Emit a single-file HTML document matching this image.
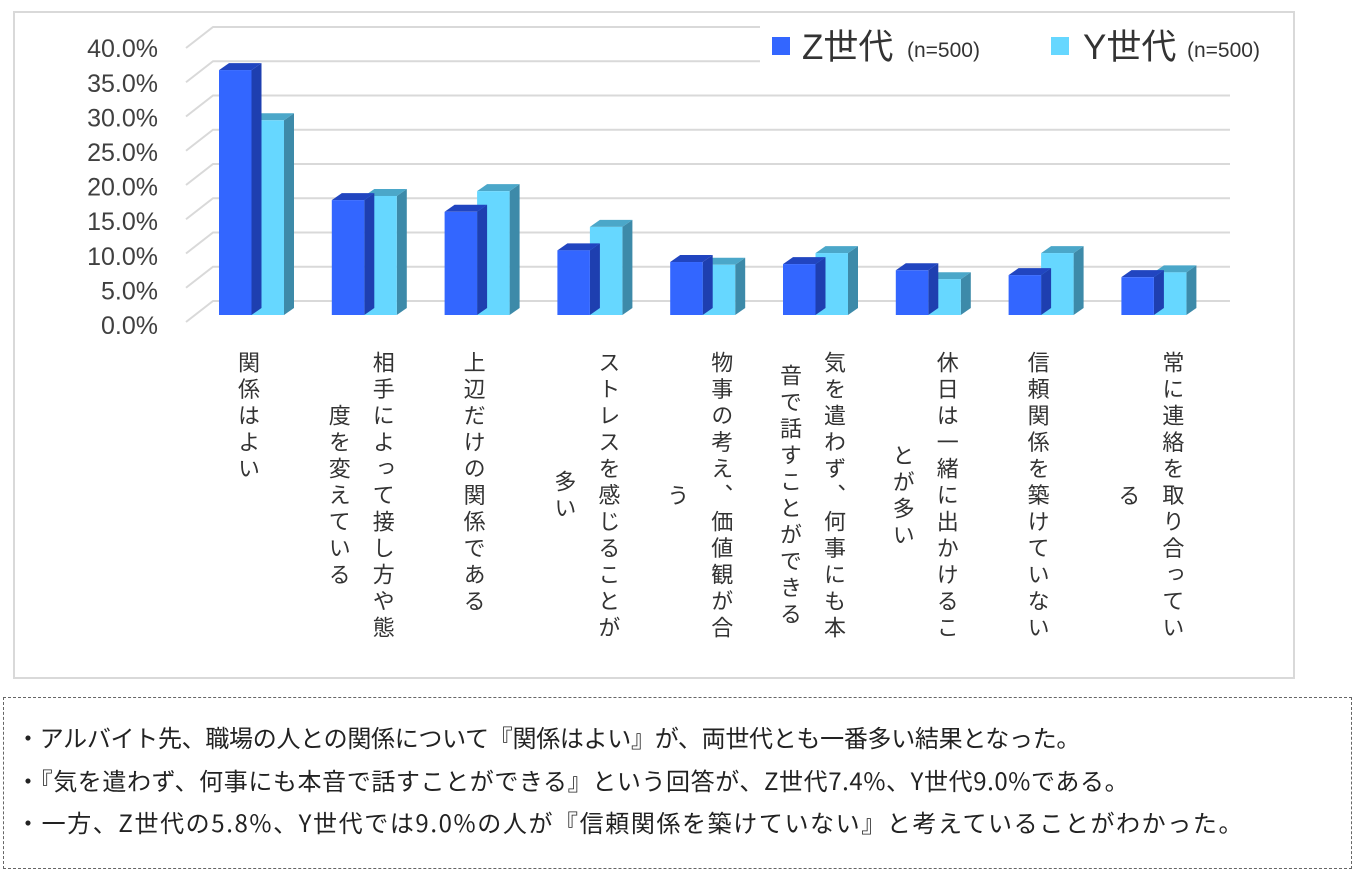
<!DOCTYPE html>
<html><head><meta charset="utf-8">
<style>
body{margin:0;width:1361px;height:877px;background:#fff;overflow:hidden;font-family:"Liberation Sans","Noto Sans CJK JP",sans-serif;color:#333}
#frame{position:absolute;left:13px;top:11px;width:1282px;height:668px;border:2px solid #d9d9d9;box-sizing:border-box}
.lbl{position:absolute;top:351px;writing-mode:vertical-rl;font-family:"Noto Sans CJK JP",sans-serif;font-size:22px;line-height:44px;text-align:center;color:#333;white-space:pre;letter-spacing:4.5px}
#note{position:absolute;left:3px;top:697px;width:1349px;height:172px;border:1.5px dashed #666;box-sizing:border-box;font-family:"Noto Sans CJK JP",sans-serif;font-size:24px;color:#222}
#note div{position:absolute;left:12px;letter-spacing:0.2px;white-space:nowrap;line-height:30px}
</style></head><body>
<div id="frame"></div>
<svg id="chart" width="1361" height="877" style="position:absolute;left:0;top:0"></svg>
<div id="labels"></div>
<div id="note">
<div style="top:24px;letter-spacing:-0.3px">・アルバイト先、職場の人との関係について『関係はよい』が、両世代とも一番多い結果となった。</div>
<div style="top:67px;letter-spacing:0.6px">・『気を遣わず、何事にも本音で話すことができる』という回答が、Z世代7.4%、Y世代9.0%である。</div>
<div style="top:109px;letter-spacing:1.6px">・一方、Z世代の5.8%、Y世代では9.0%の人が『信頼関係を築けていない』と考えていることがわかった。</div>
</div>
<script>
const categories=[["関係はよい"],["相手によって接し方や態","度を変えている"],["上辺だけの関係である"],["ストレスを感じることが","多い"],["物事の考え、価値観が合","う"],["気を遣わず、何事にも本","音で話すことができる"],["休日は一緒に出かけるこ","とが多い"],["信頼関係を築けていない"],["常に連絡を取り合ってい","る"]];
const zValues=[35.6,16.7,15.0,9.4,7.7,7.4,6.5,5.8,5.5];
const yValues=[28.3,17.3,18.0,12.8,7.3,9.0,5.2,9.0,6.2];
const ticks=[0,5,10,15,20,25,30,35,40];
const tickLabels=["0.0%","5.0%","10.0%","15.0%","20.0%","25.0%","30.0%","35.0%","40.0%"];
const NS="http://www.w3.org/2000/svg";
const svg=document.getElementById('chart');
function mk(t,a){const e=document.createElementNS(NS,t);for(const k in a)e.setAttribute(k,a[k]);svg.appendChild(e);return e;}
const backY=v=>301-v/5*34.25;
const frontY=v=>325-v/5*34.6;
const barY=v=>315-v*6.88;
const groupX=i=>219+i*112.8;
const BW=32.5,DX=10,DY=-7;
ticks.forEach((t,i)=>{
  const y=backY(t);
  const g=mk('path',{d:`M186 ${y+21} L213 ${y} L1230 ${y}`,stroke:'#d9d9d9','stroke-width':2,fill:'none'});
  
  
  const tx=mk('text',{x:158,y:frontY(t)+9,'text-anchor':'end','font-size':25,fill:'#404040','font-family':'"Liberation Sans","DejaVu Sans",sans-serif'});
  tx.textContent=tickLabels[i];
  
  
});
function bar(x,v,c){
  const yt=barY(v),yb=315;
  const s=mk('polygon',{points:`${x+BW},${yt} ${x+BW+DX},${yt+DY} ${x+BW+DX},${yb+DY} ${x+BW},${yb}`,fill:c[2]});
  
  
  const t=mk('polygon',{points:`${x},${yt} ${x+DX},${yt+DY} ${x+BW+DX},${yt+DY} ${x+BW},${yt}`,fill:c[1]});
  
  
  const f=mk('rect',{x:x,y:yt,width:BW,height:yb-yt,fill:c[0]});
  
  
}
const zc=['#3366ff','#2145c0','#1e3fb0'],yc=['#66d7ff','#4ba7c9','#3d8aa9'];
categories.forEach((c,i)=>{
  bar(groupX(i)+BW,yValues[i],yc);
  bar(groupX(i),zValues[i],zc);
});
// legend
const lb=mk('rect',{x:760,y:20,width:530,height:45,fill:'#fff'});


[[772,'Z世代',802,907,'#3366ff'],[1051,'Y世代',1083,1187,'#66d7ff']].forEach(l=>{
  const r=mk('rect',{x:l[0],y:37,width:18,height:18,fill:l[4]});
  
  
  const t=mk('text',{x:l[2],y:59,'font-size':35,fill:'#333','font-family':'"Liberation Sans","Noto Sans CJK JP",sans-serif'});
  t.textContent=l[1];
  
  
  const n=mk('text',{x:l[3],y:57,'font-size':21,fill:'#333','font-family':'"Liberation Sans",sans-serif'});
  n.textContent='(n=500)';
  
  
});
// category labels
const lw=document.getElementById('labels');
categories.forEach((lines,i)=>{
  const d=document.createElement('div');
  d.className='lbl';
  d.textContent=lines.join('\n');
  
  
  lw.appendChild(d);
  const w=lines.length*44;
  d.style.left=(groupX(i)+30-w/2)+'px';
});
</script>
</body></html>
